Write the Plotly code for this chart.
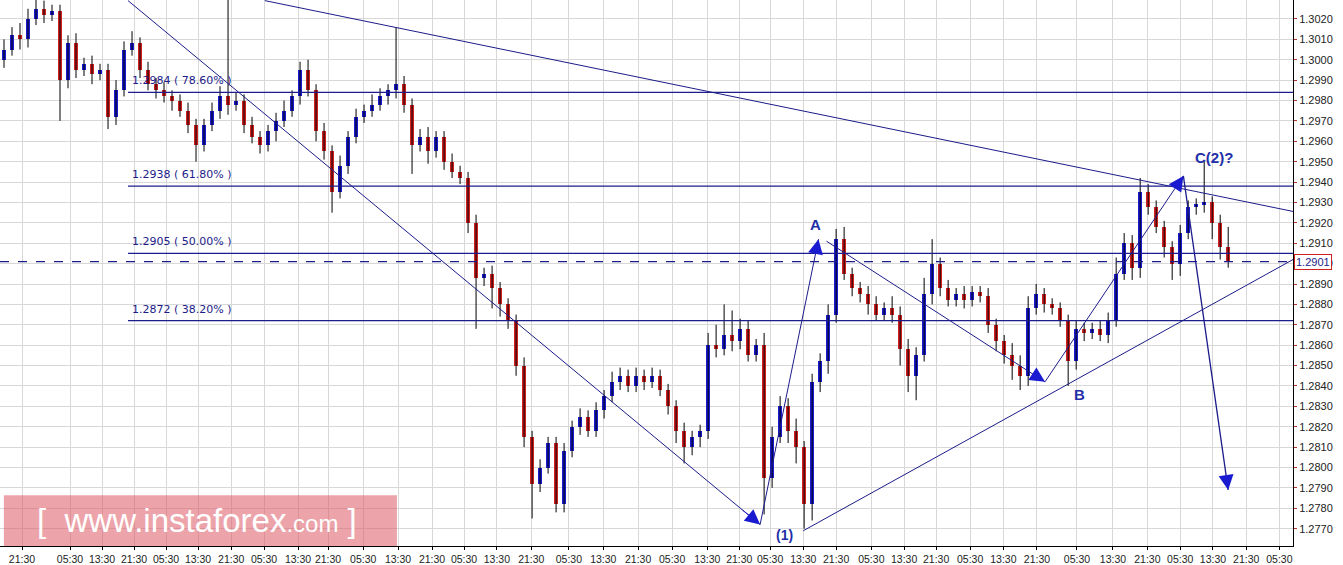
import plotly.graph_objects as go

# closes for each bar (2-hour bars)
closes = [
    1.3005, 1.3012, 1.3010, 1.3020, 1.3025, 1.3022, 1.3024, 1.2990, 1.3008, 1.2995,
    1.2998, 1.2993, 1.2995, 1.2972, 1.2985, 1.3005, 1.3008, 1.2995, 1.2988, 1.2985,
    1.2982, 1.2980, 1.2975, 1.2968, 1.2958, 1.2968, 1.2975, 1.2982, 1.2978, 1.2980,
    1.2968, 1.2962, 1.2958, 1.2965, 1.2970, 1.2975, 1.2982, 1.2995, 1.2985, 1.2965,
    1.2955, 1.2935, 1.2948, 1.2962, 1.2972, 1.2975, 1.2978, 1.2982, 1.2985, 1.2988,
    1.2978, 1.2958, 1.2962, 1.2955, 1.2962, 1.2950, 1.2945, 1.2942, 1.2920, 1.2893,
    1.2895, 1.2888, 1.2880, 1.2872, 1.2850, 1.2815, 1.2792, 1.2800, 1.2812, 1.2782,
    1.2808, 1.2820, 1.2825, 1.2818, 1.2828, 1.2835, 1.2842, 1.2845, 1.2840, 1.2845,
    1.2842, 1.2845, 1.2838, 1.2830, 1.2818, 1.2810, 1.2815, 1.2818, 1.2860, 1.2858,
    1.2865, 1.2862, 1.2868, 1.2855, 1.2860, 1.2795, 1.2815, 1.2830, 1.2818, 1.2810,
    1.2782, 1.2842, 1.2852, 1.2875, 1.2912, 1.2895, 1.2888, 1.2885, 1.2880, 1.2875,
    1.2878, 1.2875, 1.2858, 1.2845, 1.2855, 1.2885, 1.2900, 1.2888, 1.2882, 1.2885,
    1.2882, 1.2886, 1.2884, 1.2870, 1.2862, 1.2855, 1.2850, 1.2845, 1.2878, 1.2885,
    1.2880, 1.2878, 1.2872, 1.2852, 1.2868, 1.2866, 1.2868, 1.2865, 1.2872, 1.2895,
    1.2910, 1.2898, 1.2935, 1.2928, 1.2918, 1.2908, 1.2900, 1.2915, 1.2928, 1.2929,
    1.2930, 1.2920, 1.2908, 1.2901,
]
first_open = 1.3000

# wick lengths in pips beyond the body
wick_up = [
    5, 4, 6, 5, 8, 4, 3, 3, 4, 5,
    3, 4, 3, 3, 5, 4, 6, 3, 4, 3,
    4, 3, 3, 4, 3, 3, 4, 5, 50, 4,
    3, 4, 3, 3, 4, 5, 3, 4, 5, 3,
    4, 3, 5, 3, 4, 3, 5, 4, 3, 28,
    4, 3, 4, 5, 3, 3, 4, 3, 3, 4,
    3, 4, 3, 3, 3, 4, 3, 4, 3, 3,
    4, 3, 4, 3, 4, 3, 5, 4, 3, 4,
    3, 4, 3, 3, 3, 4, 3, 3, 6, 10,
    15, 12, 5, 4, 3, 6, 5, 5, 4, 6,
    3, 4, 4, 5, 5, 6, 3, 3, 4, 4,
    3, 6, 4, 5, 4, 8, 12, 3, 4, 3,
    4, 3, 3, 4, 3, 3, 6, 5, 6, 5,
    3, 3, 3, 3, 4, 3, 3, 4, 4, 8,
    5, 4, 7, 4, 3, 3, 3, 4, 3, 3,
    20, 3, 4, 10,
]
wick_dn = [
    4, 3, 5, 4, 3, 4, 3, 20, 4, 4,
    3, 5, 3, 6, 4, 3, 3, 4, 3, 4,
    3, 5, 3, 4, 8, 3, 3, 4, 5, 3,
    4, 3, 4, 3, 5, 3, 3, 4, 3, 5,
    4, 10, 3, 4, 3, 3, 3, 3, 4, 4,
    4, 14, 3, 6, 3, 4, 3, 3, 5, 25,
    4, 10, 6, 4, 5, 5, 17, 4, 3, 4,
    4, 3, 4, 3, 3, 4, 3, 4, 3, 3,
    4, 3, 3, 4, 6, 8, 4, 5, 4, 4,
    3, 5, 4, 3, 3, 18, 5, 3, 6, 8,
    12, 8, 5, 6, 4, 3, 4, 4, 5, 3,
    3, 4, 8, 8, 12, 3, 5, 4, 3, 3,
    4, 3, 3, 4, 5, 4, 7, 7, 5, 3,
    4, 3, 3, 12, 4, 4, 3, 3, 4, 3,
    3, 6, 5, 4, 3, 5, 8, 6, 3, 4,
    4, 8, 6, 3,
]

y_ticks = [1.2770 + 0.0010 * k for k in range(26)]
x_tick_pos = [2.25, 8.25, 12.25, 16.25, 20.25, 24.25, 28.4, 32.5, 36.75, 40.5,
              44.9, 49.25, 53.5, 57.5, 61.6, 65.9, 70.6, 74.9, 79.25, 83.5,
              87.9, 91.9, 95.75, 99.9, 104, 108.4, 112.5, 116.5, 120.75, 124.9,
              129.1, 134.1, 138.6, 142.9, 147, 151.1, 155.25, 159.4]
x_tick_text = [["21:30", "05:30", "13:30"][k % 3] for k in range(len(x_tick_pos))]

# fibonacci levels and wave points (bar index, price)
fib_levels = [(1.2984, "1.2984 ( 78.60% )"), (1.2938, "1.2938 ( 61.80% )"),
              (1.2905, "1.2905 ( 50.00% )"), (1.2872, "1.2872 ( 38.20% )")]
fib_start = 15.5
last_price = 1.2901
wave_down = [(15.5, 1.3029), (94.5, 1.2772)]
upper_line = [(32.6, 1.3029), (161.1, 1.29256)]
support_line = [(99.9, 1.2769), (161.1, 1.2902)]
wave_1A = [(94.5, 1.2772), (101.8, 1.2912)]
wave_AB = [(102.8, 1.2911), (130.1, 1.2842)]
wave_BC = [(130.1, 1.2842), (147.4, 1.2943)]
wave_C3 = [(147.4, 1.2943), (153.0, 1.2789)]
labels = [(101.4, 1.2919, "A"), (134.4, 1.2836, "B"), (151.2, 1.2952, "C(2)?")]

NAVY = "#1c1c8a"
BLUE = "#1a1ad0"
RED = "#d02020"
FONT = "Liberation Sans"

opens = [first_open] + closes[:-1]
n = len(closes)
idx = list(range(n))
highs = [max(o, c) + w * 0.0001 for o, c, w in zip(opens, closes, wick_up)]
lows = [min(o, c) - w * 0.0001 for o, c, w in zip(opens, closes, wick_dn)]

fig = go.Figure()

# wicks
wx, wy = [], []
for i in idx:
    wx += [i, i, None]
    wy += [lows[i], highs[i], None]
fig.add_trace(go.Scatter(x=wx, y=wy, mode="lines", line=dict(color="black", width=1),
                         hoverinfo="skip"))

# bodies
base = [min(o, c) for o, c in zip(opens, closes)]
height = [max(abs(c - o), 0.00012) for o, c in zip(opens, closes)]
colors = [BLUE if c >= o else RED for o, c in zip(opens, closes)]
fig.add_trace(go.Bar(x=idx, y=height, base=base, marker=dict(color=colors, line=dict(width=0)),
                     width=0.55))

# trend lines
for seg, w in [(wave_down, 1), (upper_line, 1), (support_line, 1),
               (wave_1A, 1), (wave_AB, 1), (wave_BC, 1), (wave_C3, 1.3)]:
    fig.add_trace(go.Scatter(x=[p[0] for p in seg], y=[p[1] for p in seg], mode="lines",
                             line=dict(color=NAVY, width=w), hoverinfo="skip"))

# arrow heads
for seg in [wave_down, wave_1A, wave_AB, wave_BC, wave_C3]:
    (x0, y0), (x1, y1) = seg
    fig.add_annotation(x=x1, y=y1, ax=x0 + (x1 - x0) * 0.97, ay=y0 + (y1 - y0) * 0.97,
                       xref="x", yref="y", axref="x", ayref="y", showarrow=True,
                       arrowhead=2, arrowsize=3, arrowwidth=1, arrowcolor=BLUE, text="")

for xv, yv, t in labels:
    fig.add_annotation(x=xv, y=yv, text="<b>" + t + "</b>", showarrow=False,
                       font=dict(size=15, color="#1f2fa8", family=FONT))
fig.add_annotation(x=97.5, xref="x", y=0, yref="paper", yanchor="bottom", yshift=1,
                   text="<b>(1)</b>", showarrow=False,
                   font=dict(size=14, color="#1f2fa8", family=FONT))

# fib levels
for lvl, txt in fib_levels:
    fig.add_shape(type="line", x0=fib_start, x1=161.1, y0=lvl, y1=lvl,
                  line=dict(color=NAVY, width=1.2))
    fig.add_annotation(x=fib_start + 0.3, y=lvl, text=txt, showarrow=False, xanchor="left",
                       yanchor="bottom", yshift=3, font=dict(size=11, color=NAVY, family="DejaVu Sans"))

fig.add_shape(type="line", xref="paper", x0=0, x1=1, y0=last_price, y1=last_price,
              line=dict(color=NAVY, width=1.2, dash="dash"))

# watermark
fig.add_shape(type="rect", xref="paper", yref="paper", x0=0.003, x1=0.307, y0=0, y1=0.093,
              fillcolor="rgba(220,90,100,0.55)", line=dict(width=0), layer="above")
fig.add_annotation(xref="paper", yref="paper", x=0.152, y=0.046, xanchor="center",
                   yanchor="middle", showarrow=False,
                   text="[  www.instaforex<span style='font-size:24px'>.com</span> ]",
                   font=dict(size=33, color="white", family="Liberation Sans"))

fig.update_layout(
    width=1343, height=565, margin=dict(l=0, r=50, t=0, b=17),
    plot_bgcolor="white", paper_bgcolor="white", showlegend=False, bargap=0,
    xaxis=dict(range=[-0.5, 161.1], tickvals=x_tick_pos, ticktext=x_tick_text,
               tickangle=0, showgrid=True, gridcolor="#d8d8d8", zeroline=False, ticks="outside",
               ticklen=3, tickcolor="black", showline=True, linecolor="black",
               tickfont=dict(size=10.5, color="#222", family=FONT)),
    yaxis=dict(range=[1.27615, 1.30293], side="right", tickvals=y_ticks,
               tickformat=".4f", showgrid=True, gridcolor="#d8d8d8", zeroline=False,
               ticks="outside", ticklen=3, tickcolor="#c03030", showline=True, linecolor="black",
               tickfont=dict(size=11, color="#222", family=FONT)),
)

fig.add_annotation(xref="paper", x=1, xanchor="left", xshift=1, y=last_price, text="1.2901",
                   showarrow=False, bordercolor=RED, borderwidth=1, borderpad=1, bgcolor="white",
                   font=dict(size=11, color=NAVY, family=FONT))

fig.write_html("out.html", config={"displayModeBar": False},
               post_script="document.body.style.margin='0';")
